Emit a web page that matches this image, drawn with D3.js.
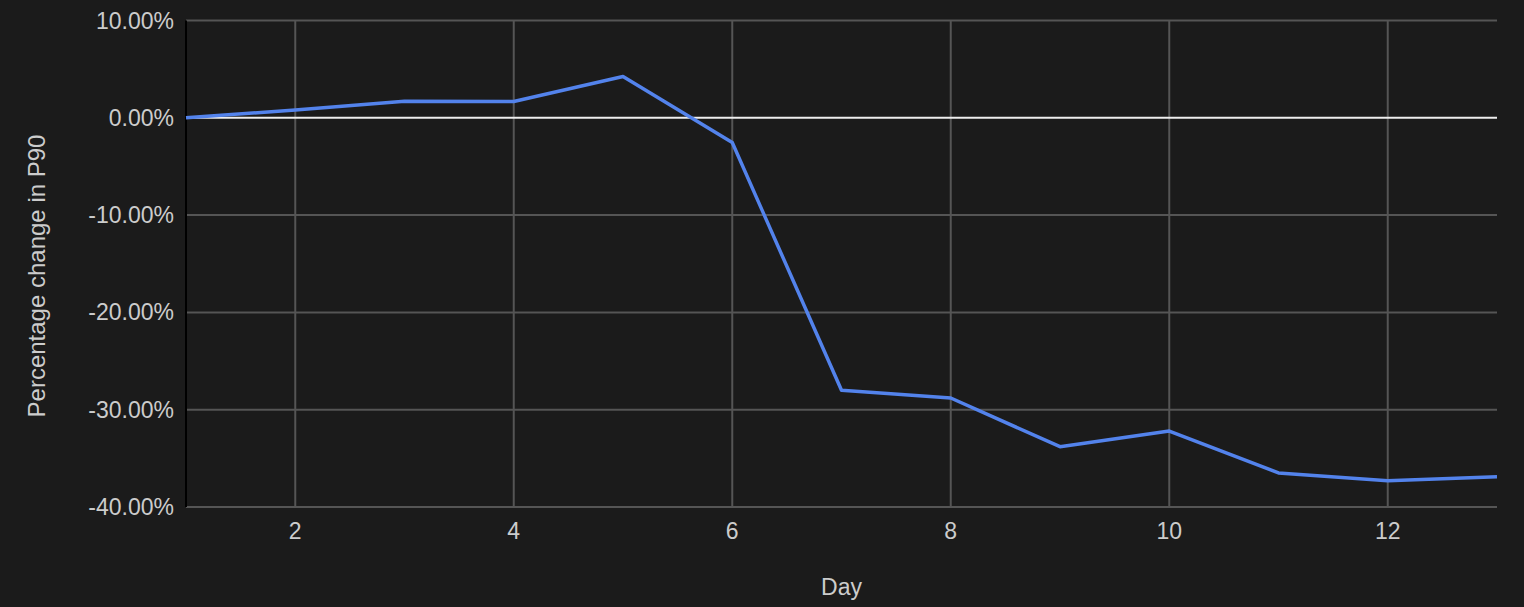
<!DOCTYPE html>
<html>
<head>
<meta charset="utf-8">
<script src="https://cdn.jsdelivr.net/npm/d3@7"></script>
<style>
  html, body { margin: 0; padding: 0; background: #1b1b1b; }
  svg { display: block; font-family: "Liberation Sans", Arial, sans-serif; }
</style>
</head>
<body>
<div id="chart"></div>
<script>
// chart data
const days = [1, 2, 3, 4, 5, 6, 7, 8, 9, 10, 11, 12, 13]
const p90Change = [0, 0.8, 1.7, 1.68, 4.24, -2.54, -28.0, -28.8, -33.8, -32.2, -36.5, -37.3, -36.9]
const xTicks = [2, 4, 6, 8, 10, 12]
const yTicks = [10, 0, -10, -20, -30, -40]

const width = 1524
const height = 607
const margin = { top: 20.5, right: 27, bottom: 100, left: 186 }

const svg = d3.select('#chart')
  .append('svg')
    .attr('width', width)
    .attr('height', height)

svg.append('rect')
  .attr('width', width)
  .attr('height', height)
  .attr('fill', '#1b1b1b')

const x = d3.scaleLinear()
  .domain([1, 13])
  .range([margin.left, width - margin.right])

const y = d3.scaleLinear()
  .domain([-40, 10])
  .range([height - margin.bottom, margin.top])

// gridlines
svg.append('g')
  .selectAll('line')
  .data(xTicks)
  .enter()
  .append('line')
    .attr('x1', d => x(d)).attr('x2', d => x(d))
    .attr('y1', y(10)).attr('y2', y(-40))
    .attr('stroke', '#555')
    .attr('stroke-width', 2)

svg.append('g')
  .selectAll('line')
  .data(yTicks.filter(d => d !== 0))
  .enter()
  .append('line')
    .attr('x1', x(1)).attr('x2', x(13))
    .attr('y1', d => y(d)).attr('y2', d => y(d))
    .attr('stroke', '#555')
    .attr('stroke-width', 2)

// zero baseline
svg.append('line')
  .attr('x1', x(1)).attr('x2', x(13))
  .attr('y1', y(0)).attr('y2', y(0))
  .attr('stroke', '#eeeeee')
  .attr('stroke-width', 2)

// left axis line
svg.append('line')
  .attr('x1', x(1)).attr('x2', x(1))
  .attr('y1', y(10)).attr('y2', y(-40))
  .attr('stroke', '#000')
  .attr('stroke-width', 2)

// tick labels (plain hyphen for negatives, like the original)
svg.append('g')
  .selectAll('text')
  .data(yTicks)
  .enter()
  .append('text')
    .attr('x', margin.left - 12)
    .attr('y', d => y(d))
    .attr('dy', '0.35em')
    .attr('text-anchor', 'end')
    .attr('fill', '#cccccc')
    .style('font-size', '23px')
    .text(d => (d < 0 ? '-' : '') + Math.abs(d).toFixed(2) + '%')

svg.append('g')
  .selectAll('text')
  .data(xTicks)
  .enter()
  .append('text')
    .attr('x', d => x(d))
    .attr('y', 539)
    .attr('text-anchor', 'middle')
    .attr('fill', '#cccccc')
    .style('font-size', '23px')
    .text(d => d)

// axis titles
svg.append('text')
  .attr('x', (x(1) + x(13)) / 2)
  .attr('y', 595)
  .attr('text-anchor', 'middle')
  .attr('fill', '#cccccc')
  .style('font-size', '23px')
  .text('Day')

svg.append('text')
  .attr('transform', 'translate(37,276) rotate(-90)')
  .attr('dy', '0.35em')
  .attr('text-anchor', 'middle')
  .attr('fill', '#cccccc')
  .style('font-size', '24px')
  .text('Percentage change in P90')

// the series line
const line = d3.line()
  .x((d, i) => x(days[i]))
  .y(d => y(d))

svg.append('path')
  .datum(p90Change)
  .attr('d', line)
  .attr('fill', 'none')
  .attr('stroke', '#5383ec')
  .attr('stroke-width', 3.5)
  .attr('stroke-linejoin', 'round')
</script>
</body>
</html>
